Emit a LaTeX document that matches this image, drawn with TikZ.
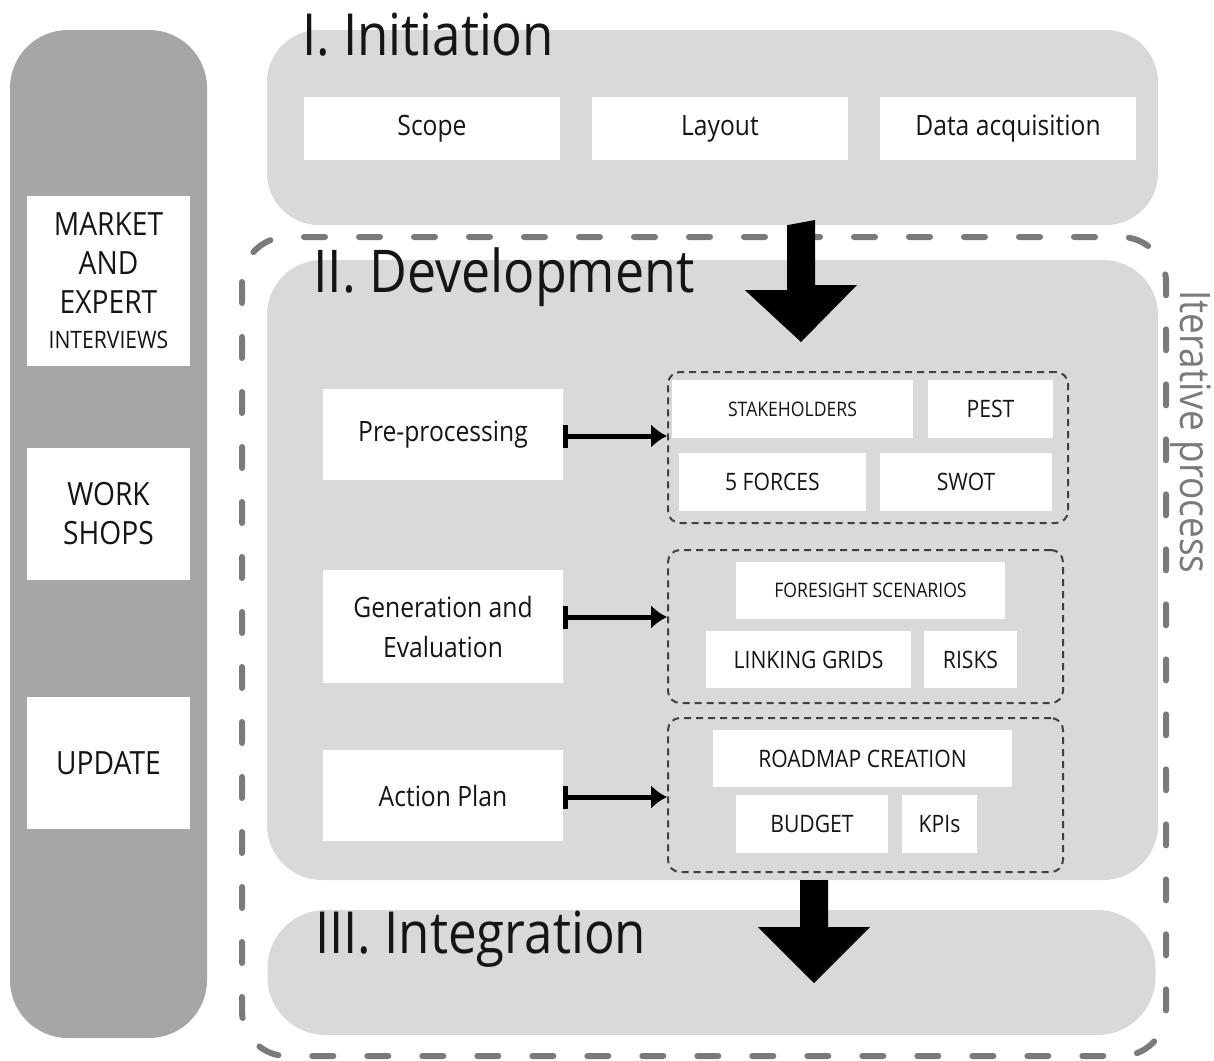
\documentclass[tikz,border=0pt]{standalone}
\usepackage{fontspec}
\setmainfont{Open Sans}[FakeStretch=0.88]
\usetikzlibrary{arrows.meta}
\definecolor{darkbar}{HTML}{A6A6A6}
\definecolor{panelgray}{HTML}{D9D9D9}
\definecolor{dashgray}{HTML}{7A7A7A}
\definecolor{grpgray}{HTML}{404040}
\definecolor{ink}{HTML}{151515}
\begin{document}
\begin{tikzpicture}[x=1pt,y=-1pt,
  panel/.style={fill=panelgray, draw=none, inner sep=0pt},
  wbox/.style={fill=white, draw=none, inner sep=0pt, align=center, text=ink},
  grp/.style={draw=grpgray, line width=2pt, dash pattern=on 7pt off 5pt, rounded corners=12pt, inner sep=0pt},
  link/.style={line width=5pt, draw=black, {Bar[width=23pt]}-{Latex[length=16pt,width=24pt]}},
  bigarrow/.style={fill=black, draw=none},
  title/.style={anchor=base west, inner sep=0pt, text=ink},
  fbig/.style={font=\fontsize{28}{40}\selectfont},
  fside/.style={font=\fontsize{32}{39}\selectfont},
  fmid/.style={font=\fontsize{24}{28}\selectfont},
  fsmall/.style={font=\fontsize{20}{24}\selectfont},
]
\useasboundingbox (0,0) rectangle (1214,1060);

% outer iterative dashed frame
\draw[dashgray, line width=6pt, line cap=round, dash pattern=on 21pt off 34pt, rounded corners=45pt]
  (242,237) rectangle (1166,1056);
\node[rotate=-90, anchor=base west, inner sep=0pt, text=dashgray, font=\fontsize{42}{48}\selectfont] (iter) at (1180,290) {Iterative process};

% left bar
\node[fill=darkbar, rounded corners=58pt, minimum width=197pt, minimum height=1008pt, inner sep=0pt] (side) at (108.5,534) {};
\node[wbox, minimum width=163pt, minimum height=170pt, fside] (mkt) at (108.5,281) {MARKET\\AND\\EXPERT\\[-4pt]{\fontsize{24}{28}\selectfont INTERVIEWS}};
\node[wbox, minimum width=163pt, minimum height=132pt, fside] (ws) at (108.5,514) {WORK\\SHOPS};
\node[wbox, minimum width=163pt, minimum height=132pt, fside] (upd) at (108.5,763) {UPDATE};

% I. Initiation
\node[panel, rounded corners=52pt, minimum width=891pt, minimum height=195pt] (init) at (712.5,127.5) {};
\node[title, font=\fontsize{58}{62}\selectfont] (t1) at (302,55) {I. Initiation};
\node[wbox, minimum width=256pt, minimum height=63pt, fbig] (scope) at (432,128.5) {Scope};
\node[wbox, minimum width=256pt, minimum height=63pt, fbig] (layout) at (720,128.5) {Layout};
\node[wbox, minimum width=256pt, minimum height=63pt, fbig] (data) at (1008,128.5) {Data acquisition};

% II. Development
\node[panel, rounded corners=55pt, minimum width=891pt, minimum height=620pt] (dev) at (712.5,570) {};
\node[title, font=\fontsize{59}{62}\selectfont] (t2) at (313,292) {II. Development};
\node[wbox, minimum width=240pt, minimum height=91pt, fbig] (pre) at (443,434.5) {Pre-processing};
\node[wbox, minimum width=240pt, minimum height=113pt, fbig] (gen) at (443,626.5) {Generation and\\Evaluation};
\node[wbox, minimum width=240pt, minimum height=91pt, fbig] (act) at (443,795.5) {Action Plan};

% group 1
\node[grp, minimum width=400pt, minimum height=151pt] (g1) at (868,447.5) {};
\node[wbox, minimum width=241pt, minimum height=58pt, fsmall] (stake) at (792.5,409) {STAKEHOLDERS};
\node[wbox, minimum width=125pt, minimum height=58pt, fmid] (pest) at (990.5,409) {PEST};
\node[wbox, minimum width=187pt, minimum height=58pt, fmid] (forces) at (772.5,482) {5 FORCES};
\node[wbox, minimum width=172pt, minimum height=58pt, fmid] (swot) at (966,482) {SWOT};

% group 2
\node[grp, minimum width=395pt, minimum height=153pt] (g2) at (865.5,626.5) {};
\node[wbox, minimum width=269pt, minimum height=57pt, fsmall] (fore) at (870.5,590.5) {FORESIGHT SCENARIOS};
\node[wbox, minimum width=205pt, minimum height=57pt, fmid] (grids) at (808.5,659.5) {LINKING GRIDS};
\node[wbox, minimum width=93pt, minimum height=57pt, fmid] (risks) at (970.5,659.5) {RISKS};

% group 3
\node[grp, minimum width=395pt, minimum height=154pt] (g3) at (865.5,795) {};
\node[wbox, minimum width=299pt, minimum height=57pt, fmid] (road) at (862.5,758.5) {ROADMAP CREATION};
\node[wbox, minimum width=152pt, minimum height=58pt, fmid] (budget) at (812,824) {BUDGET};
\node[wbox, minimum width=75pt, minimum height=58pt, fmid] (kpis) at (939.5,824) {KPIs};

% connectors
\coordinate (p1) at ([yshift=-1.5pt]pre.east);
\coordinate (p2) at ([yshift=9.5pt]gen.east);
\coordinate (p3) at ([yshift=-1.5pt]act.east);
\draw[link] (p1) -- (p1 -| g1.west);
\draw[link] (p2) -- (p2 -| g2.west);
\draw[link] (p3) -- (p3 -| g3.west);

% III. Integration
\node[panel, rounded corners=58pt, minimum width=888pt, minimum height=125pt] (integ) at (711.5,972.5) {};
\node[title, font=\fontsize{58}{62}\selectfont] (t3) at (315,953) {III. Integration};

% big arrows
\coordinate (a1) at (init.south -| 801,0);
\fill[bigarrow] (a1) ++(-14,0) -- ++(0,65) -- ++(-42,0) -- (801,342) -- (857,285) -- (815,285) -- (815,220) -- cycle;
\coordinate (a2) at (dev.south -| 814,0);
\fill[bigarrow] (a2) ++(-14,0) -- ++(0,47) -- ++(-42,0) -- (814,983) -- (870,927) -- (828,927) -- (828,880) -- cycle;
\end{tikzpicture}
\end{document}
